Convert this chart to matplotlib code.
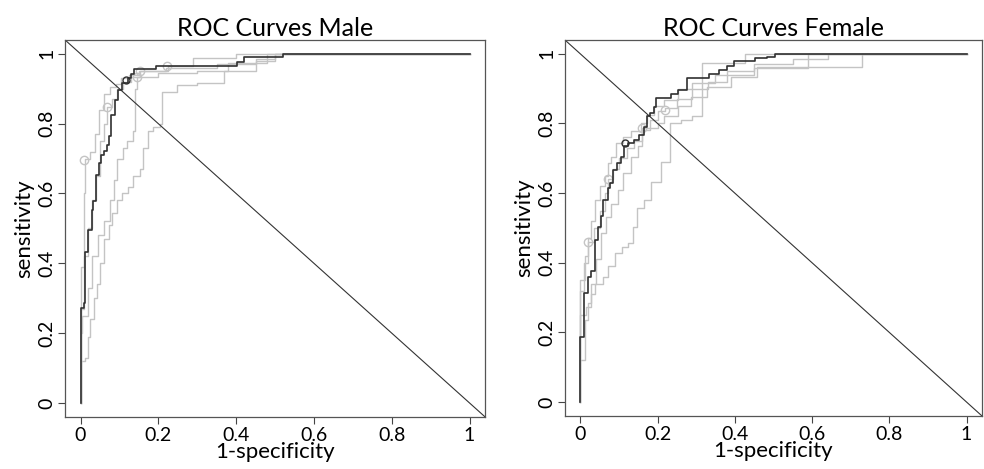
import numpy as np
import matplotlib
matplotlib.use("Agg")
import matplotlib.pyplot as plt

plt.rcParams['font.family'] = ['Lato', 'DejaVu Sans']

# ---- Male panel: 1-specificity / sensitivity step points ----
male_dark_fpr = [0, 0, 0.009, 0.011, 0.020, 0.029, 0.031, 0.039, 0.048, 0.052, 0.061, 0.067,
                 0.072, 0.078, 0.089, 0.097, 0.107, 0.121, 0.129, 0.138, 0.195, 0.403, 0.421, 0.520, 1.0]
male_dark_tpr = [0, 0.273, 0.287, 0.433, 0.494, 0.554, 0.578, 0.654, 0.687, 0.711, 0.721, 0.738,
                 0.764, 0.826, 0.868, 0.897, 0.916, 0.932, 0.943, 0.957, 0.964, 0.978, 0.991, 1.0, 1.0]
male_dark_cut = (0.117, 0.926)

male_l1_fpr = [0, 0, 0.008, 0.012, 0.025, 0.036, 0.048, 0.06, 0.075, 0.09, 0.105, 0.125, 0.15, 0.224, 0.29, 0.40, 1.0]
male_l1_tpr = [0, 0.39, 0.60, 0.70, 0.72, 0.77, 0.84, 0.885, 0.905, 0.915, 0.93, 0.94, 0.95, 0.964, 0.988, 1.0, 1.0]

male_l2_fpr = [0, 0, 0.01, 0.02, 0.03, 0.04, 0.05, 0.06, 0.068, 0.08, 0.095, 0.11, 0.13, 0.153, 0.22, 0.35, 0.45, 0.50, 1.0]
male_l2_tpr = [0, 0.27, 0.42, 0.50, 0.58, 0.65, 0.75, 0.80, 0.849, 0.87, 0.90, 0.92, 0.935, 0.95, 0.96, 0.97, 0.985, 1.0, 1.0]

male_l3_fpr = [0, 0, 0.005, 0.02, 0.03, 0.045, 0.06, 0.075, 0.085, 0.095, 0.11, 0.12, 0.135, 0.14, 0.145,
               0.2, 0.3, 0.38, 0.48, 1.0]
male_l3_tpr = [0, 0.20, 0.25, 0.33, 0.42, 0.48, 0.52, 0.58, 0.64, 0.70, 0.73, 0.75, 0.78, 0.90, 0.935,
               0.945, 0.95, 0.975, 1.0, 1.0]

male_l4_fpr = [0, 0, 0.012, 0.018, 0.025, 0.035, 0.042, 0.05, 0.06, 0.072, 0.08, 0.093, 0.106, 0.123, 0.135,
               0.152, 0.161, 0.174, 0.187, 0.204, 0.21, 0.247, 0.30, 0.37, 0.45, 0.50, 1.0]
male_l4_tpr = [0, 0.12, 0.13, 0.19, 0.24, 0.30, 0.34, 0.40, 0.47, 0.51, 0.545, 0.58, 0.60, 0.62, 0.65,
               0.67, 0.73, 0.78, 0.79, 0.80, 0.89, 0.91, 0.916, 0.95, 0.98, 1.0, 1.0]

male_cut_fpr = [0.01, 0.068, 0.145, 0.153, 0.223]
male_cut_tpr = [0.695, 0.849, 0.935, 0.95, 0.964]

# ---- Female panel ----
female_dark_fpr = [0, 0, 0.0086, 0.020, 0.028, 0.039, 0.047, 0.054, 0.060, 0.071, 0.076, 0.084, 0.095,
                   0.106, 0.114, 0.123, 0.140, 0.153, 0.166, 0.174, 0.181, 0.191, 0.197, 0.234, 0.252,
                   0.277, 0.333, 0.359, 0.380, 0.397, 0.453, 0.483, 0.505, 1.0]
female_dark_tpr = [0, 0.186, 0.314, 0.360, 0.375, 0.465, 0.504, 0.533, 0.580, 0.614, 0.628, 0.665, 0.686,
                   0.705, 0.734, 0.743, 0.753, 0.767, 0.790, 0.820, 0.830, 0.847, 0.872, 0.884, 0.895,
                   0.930, 0.943, 0.954, 0.966, 0.978, 0.987, 0.992, 1.0, 1.0]
female_dark_cut = (0.116, 0.745)

female_l1_fpr = [0, 0, 0.011, 0.02, 0.028, 0.039, 0.05, 0.063, 0.071, 0.08, 0.093, 0.11, 0.131, 0.157,
                 0.174, 0.191, 0.217, 0.252, 0.29, 0.35, 0.45, 0.59, 1.0]
female_l1_tpr = [0, 0.35, 0.42, 0.47, 0.52, 0.58, 0.62, 0.65, 0.686, 0.705, 0.743, 0.762, 0.777, 0.80,
                 0.825, 0.85, 0.868, 0.90, 0.915, 0.94, 0.96, 1.0, 1.0]

female_l2_fpr = [0, 0, 0.01, 0.02, 0.035, 0.05, 0.065, 0.071, 0.085, 0.10, 0.12, 0.14, 0.16, 0.18, 0.20,
                 0.22, 0.25, 0.29, 0.33, 0.38, 0.45, 0.55, 0.64, 1.0]
female_l2_tpr = [0, 0.32, 0.40, 0.46, 0.50, 0.55, 0.60, 0.64, 0.67, 0.70, 0.73, 0.75, 0.78, 0.81, 0.835,
                 0.845, 0.87, 0.90, 0.92, 0.95, 0.97, 0.985, 1.0, 1.0]

female_l3_fpr = [0, 0, 0.014, 0.028, 0.041, 0.054, 0.067, 0.08, 0.097, 0.110, 0.132, 0.149, 0.161, 0.2,
                 0.217, 0.252, 0.286, 0.329, 0.39, 0.457, 0.728, 1.0]
female_l3_tpr = [0, 0.25, 0.274, 0.34, 0.41, 0.485, 0.53, 0.57, 0.61, 0.657, 0.705, 0.734, 0.786, 0.80,
                 0.82, 0.85, 0.877, 0.905, 0.934, 0.962, 1.0, 1.0]

female_l4_fpr = [0, 0, 0.013, 0.02, 0.028, 0.039, 0.06, 0.071, 0.09, 0.108, 0.123, 0.136, 0.146, 0.166,
                 0.183, 0.209, 0.232, 0.26, 0.29, 0.315, 0.427, 1.0]
female_l4_tpr = [0, 0.12, 0.236, 0.284, 0.31, 0.34, 0.36, 0.39, 0.427, 0.446, 0.456, 0.504, 0.556, 0.58,
                 0.633, 0.69, 0.80, 0.81, 0.82, 0.974, 1.0, 1.0]

female_cut_fpr = [0.02, 0.071, 0.161, 0.22]
female_cut_tpr = [0.46, 0.64, 0.786, 0.84]

ticks = [0, 0.2, 0.4, 0.6, 0.8, 1]
tick_labels = ["0", "0.2", "0.4", "0.6", "0.8", "1"]

light = "#c4c4c4"
dark = "#303030"


def draw_panel(ax, title, light_curves, dark_curve, dark_cut, cut_fpr, cut_tpr):
    for fpr, tpr in light_curves:
        ax.plot(fpr, tpr, drawstyle="steps-post", color=light, lw=1.0)
    ax.plot(cut_fpr, cut_tpr, "o", ms=6, mfc="none", mec=light, mew=1.0)
    ax.plot(dark_curve[0], dark_curve[1], drawstyle="steps-post", color=dark, lw=1.2)
    ax.plot([dark_cut[0]], [dark_cut[1]], "o", ms=5, mfc="none", mec=dark, mew=1.0)
    # chance diagonal, corner to corner
    ax.axline((0, 1), slope=-1, color="#333333", lw=0.8)

    ax.set_xlim(-0.04, 1.04)
    ax.set_ylim(-0.04, 1.04)
    ax.set_xticks(ticks)
    ax.set_xticklabels(tick_labels)
    ax.set_yticks(ticks)
    ax.set_yticklabels(tick_labels, rotation=90, va="center")
    ax.tick_params(length=5, width=0.8, labelsize=14, color="#444444", pad=2)
    for s in ax.spines.values():
        s.set_color("#555555")
        s.set_linewidth(0.9)
    ax.set_title(title, fontsize=18, pad=3)
    ax.set_xlabel("1-specificity", fontsize=16, labelpad=-1)
    ax.set_ylabel("sensitivity", fontsize=16, labelpad=3)


fig = plt.figure(figsize=(9.84, 4.69), dpi=100)
ax1 = fig.add_axes([0.066, 0.111, 0.427, 0.804])
ax2 = fig.add_axes([0.574, 0.113, 0.424, 0.802])

draw_panel(ax1, "ROC Curves Male",
           [(male_l1_fpr, male_l1_tpr), (male_l2_fpr, male_l2_tpr),
            (male_l3_fpr, male_l3_tpr), (male_l4_fpr, male_l4_tpr)],
           (male_dark_fpr, male_dark_tpr), male_dark_cut, male_cut_fpr, male_cut_tpr)
draw_panel(ax2, "ROC Curves Female",
           [(female_l1_fpr, female_l1_tpr), (female_l2_fpr, female_l2_tpr),
            (female_l3_fpr, female_l3_tpr), (female_l4_fpr, female_l4_tpr)],
           (female_dark_fpr, female_dark_tpr), female_dark_cut, female_cut_fpr, female_cut_tpr)

fig.savefig("out.png", dpi=100)
